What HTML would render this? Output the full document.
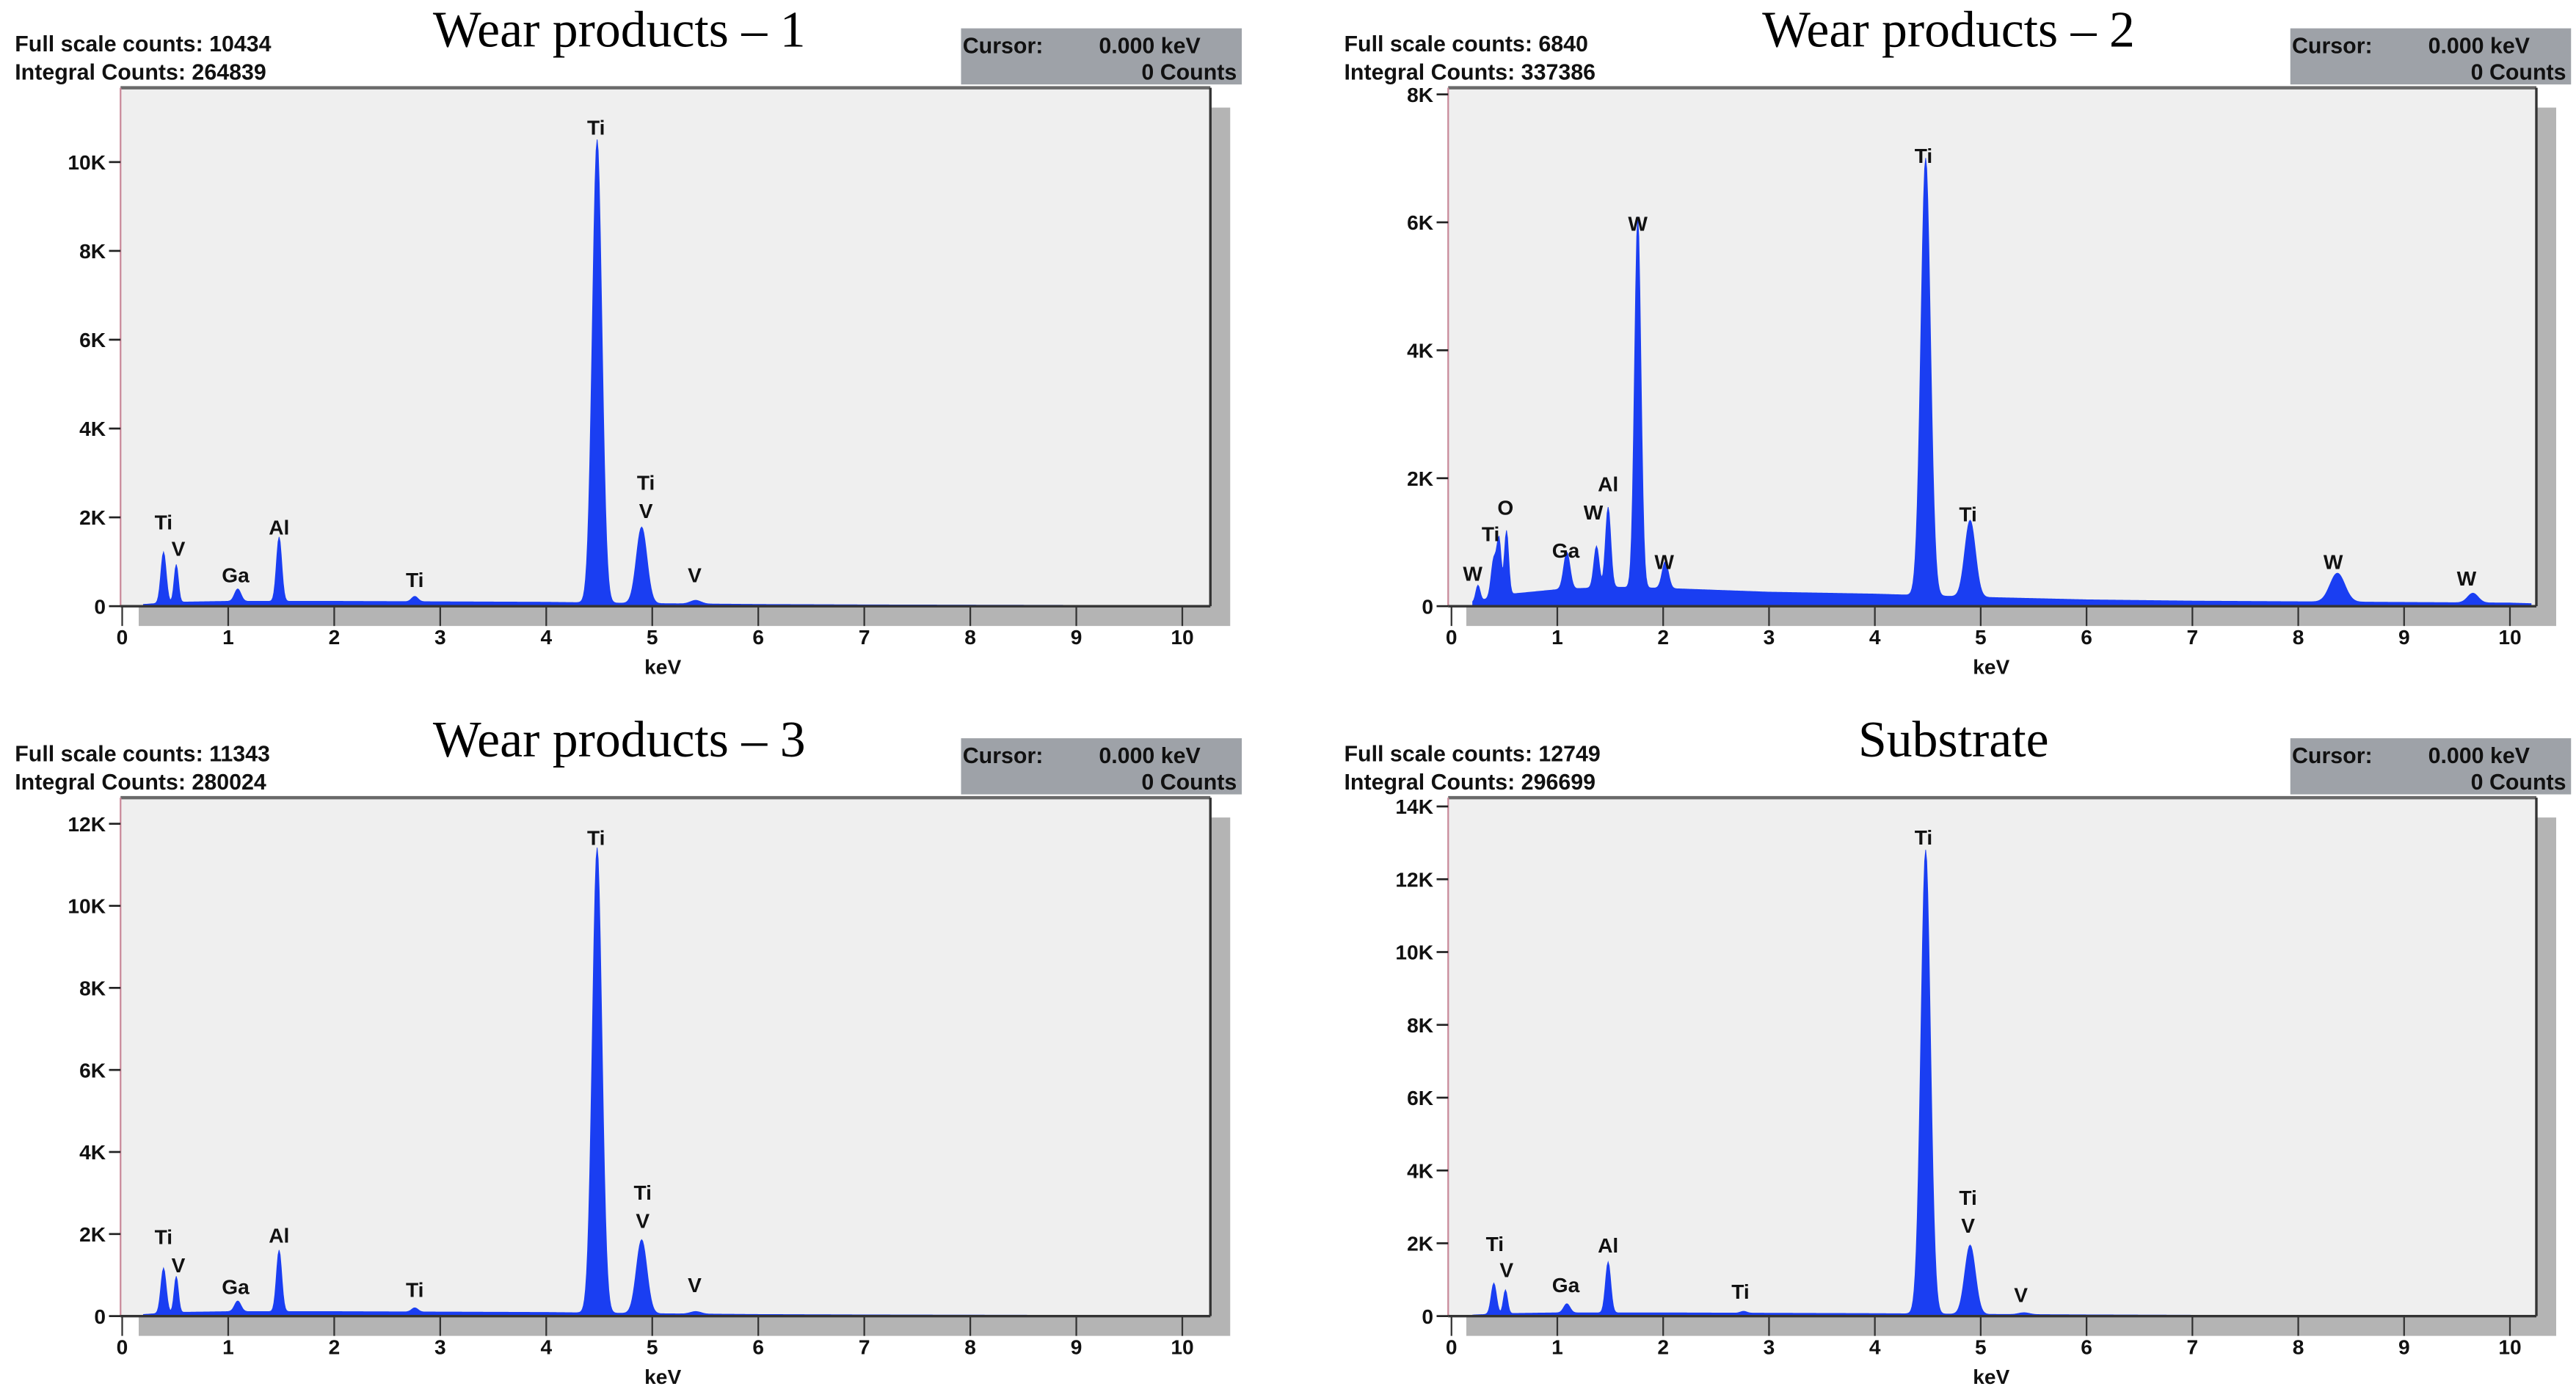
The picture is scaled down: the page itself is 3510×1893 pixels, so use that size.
<!DOCTYPE html>
<html><head><meta charset="utf-8"><style>
html,body{margin:0;padding:0;background:#fff;}
svg{display:block;}
</style></head><body>
<svg id="fig" xmlns="http://www.w3.org/2000/svg" width="3510" height="1893" viewBox="0 0 1560 841"></svg>
<script>
// ---- data: panel 1 (Wear products – 1) ----
const p1PeakKeV   = [0.39, 0.51, 1.09, 1.48, 2.76, 4.48, 4.90, 5.41];
const p1PeakCount = [1150, 850, 280, 1450, 120, 10434, 1720, 80];
const p1PeakSigma = [0.025, 0.02, 0.03, 0.025, 0.03, 0.045, 0.05, 0.05];
const p1BgKeV   = [0.2, 0.5, 1, 2, 3, 4, 5, 6, 7, 8, 9, 10, 10.2];
const p1BgCount = [40, 90, 110, 110, 100, 90, 60, 40, 30, 25, 20, 15, 15];
const p1LabelText  = ["Ti","V","Ga","Al","Ti","Ti","Ti","V","V"];
const p1LabelKeV   = [0.39,0.53,1.07,1.48,2.76,4.47,4.94,4.94,5.40];
const p1LabelCount = [1896,1301,706,1784,595,10781,2788,2156,706];
const p1YTicks = [0,2000,4000,6000,8000,10000];
const p1YTickLabels = ["0","2K","4K","6K","8K","10K"];

// ---- data: panel 2 (Wear products – 2) ----
const p2PeakKeV   = [0.25, 0.40, 0.45, 0.52, 1.09, 1.37, 1.48, 1.76, 2.02, 4.48, 4.90, 8.37, 9.65];
const p2PeakCount = [250, 600, 850, 1000, 580, 650, 1250, 5800, 420, 6840, 1200, 450, 150];
const p2PeakSigma = [0.02, 0.025, 0.02, 0.02, 0.03, 0.025, 0.025, 0.03, 0.03, 0.045, 0.05, 0.07, 0.05];
const p2BgKeV   = [0.2, 0.5, 1, 1.5, 2, 3, 4, 5, 6, 7, 8, 9, 10, 10.2];
const p2BgCount = [60, 180, 260, 300, 280, 220, 190, 140, 100, 80, 70, 60, 50, 40];
const p2LabelText  = ["W","Ti","O","Ga","W","Al","W","W","Ti","Ti","W","W"];
const p2LabelKeV   = [0.20,0.37,0.51,1.08,1.34,1.48,1.76,2.01,4.46,4.88,8.33,9.59];
const p2LabelCount = [516,1135,1548,877,1471,1910,5987,697,7045,1445,697,439];
const p2YTicks = [0,2000,4000,6000,8000];
const p2YTickLabels = ["0","2K","4K","6K","8K"];

// ---- data: panel 3 (Wear products – 3) ----
const p3PeakKeV   = [0.39, 0.51, 1.09, 1.48, 2.76, 4.48, 4.90, 5.41];
const p3PeakCount = [1100, 880, 260, 1500, 100, 11343, 1800, 60];
const p3PeakSigma = [0.025, 0.02, 0.03, 0.025, 0.03, 0.045, 0.05, 0.05];
const p3BgKeV   = [0.2, 0.5, 1, 2, 3, 4, 5, 6, 7, 8, 9, 10, 10.2];
const p3BgCount = [40, 90, 110, 110, 100, 90, 60, 40, 30, 25, 20, 15, 15];
const p3LabelText  = ["Ti","V","Ga","Al","Ti","Ti","Ti","V","V"];
const p3LabelKeV   = [0.39,0.53,1.07,1.48,2.76,4.47,4.91,4.91,5.40];
const p3LabelCount = [1932,1247,724,1972,644,11670,3018,2334,765];
const p3YTicks = [0,2000,4000,6000,8000,10000,12000];
const p3YTickLabels = ["0","2K","4K","6K","8K","10K","12K"];

// ---- data: panel 4 (Substrate) ----
const p4PeakKeV   = [0.40, 0.51, 1.09, 1.48, 2.76, 4.48, 4.90, 5.41];
const p4PeakCount = [850, 650, 250, 1400, 50, 12749, 1900, 50];
const p4PeakSigma = [0.025, 0.02, 0.03, 0.025, 0.03, 0.045, 0.05, 0.05];
const p4BgKeV   = [0.2, 0.5, 1, 2, 3, 4, 5, 6, 7, 8, 9, 10, 10.2];
const p4BgCount = [30, 70, 90, 90, 80, 70, 50, 35, 25, 20, 15, 12, 12];
const p4LabelText  = ["Ti","V","Ga","Al","Ti","Ti","Ti","V","V"];
const p4LabelKeV   = [0.41,0.52,1.08,1.48,2.73,4.46,4.88,4.88,5.38];
const p4LabelCount = [1995,1270,862,1950,680,13152,3265,2494,590];
const p4YTicks = [0,2000,4000,6000,8000,10000,12000,14000];
const p4YTickLabels = ["0","2K","4K","6K","8K","10K","12K","14K"];

const xTicks = [0,1,2,3,4,5,6,7,8,9,10];

const panels = [
 {name:"wear-products-1", title:"Wear products \u2013 1", full:"10434", integral:"264839", ox:0, oy:0, titleX:375,
  box:[73,53,733,367], x0:74, pxKeV:64.2, zeroY:367, pxCount:0.0269,
  pk:p1PeakKeV, pc:p1PeakCount, ps:p1PeakSigma, bk:p1BgKeV, bc:p1BgCount,
  lt:p1LabelText, lk:p1LabelKeV, lc:p1LabelCount, yt:p1YTicks, ytl:p1YTickLabels},
 {name:"wear-products-2", title:"Wear products \u2013 2", full:"6840", integral:"337386", ox:805, oy:0, titleX:1180,
  box:[877,53,1536,367], x0:879, pxKeV:64.1, zeroY:367, pxCount:0.03875,
  pk:p2PeakKeV, pc:p2PeakCount, ps:p2PeakSigma, bk:p2BgKeV, bc:p2BgCount,
  lt:p2LabelText, lk:p2LabelKeV, lc:p2LabelCount, yt:p2YTicks, ytl:p2YTickLabels},
 {name:"wear-products-3", title:"Wear products \u2013 3", full:"11343", integral:"280024", ox:0, oy:430, titleX:375,
  box:[73,483,733,797], x0:74, pxKeV:64.2, zeroY:797, pxCount:0.02485,
  pk:p3PeakKeV, pc:p3PeakCount, ps:p3PeakSigma, bk:p3BgKeV, bc:p3BgCount,
  lt:p3LabelText, lk:p3LabelKeV, lc:p3LabelCount, yt:p3YTicks, ytl:p3YTickLabels},
 {name:"substrate", title:"Substrate", full:"12749", integral:"296699", ox:805, oy:430, titleX:1183,
  box:[877,483,1536,797], x0:879, pxKeV:64.1, zeroY:797, pxCount:0.02205,
  pk:p4PeakKeV, pc:p4PeakCount, ps:p4PeakSigma, bk:p4BgKeV, bc:p4BgCount,
  lt:p4LabelText, lk:p4LabelKeV, lc:p4LabelCount, yt:p4YTicks, ytl:p4YTickLabels}
];

const NS = "http://www.w3.org/2000/svg";
const svg = document.getElementById("fig");
function mk(tag, attrs, parent){
  const e = document.createElementNS(NS, tag);
  for (const k in attrs) e.setAttribute(k, attrs[k]);
  (parent||svg).appendChild(e);
  return e;
}
function txt(s, attrs, parent){ const t = mk("text", attrs, parent); t.textContent = s; return t; }

function bgAt(p, e){
  const k = p.bk, c = p.bc;
  if (e <= k[0]) return c[0];
  for (let i=1;i<k.length;i++){
    if (e <= k[i]) { const f=(e-k[i-1])/(k[i]-k[i-1]); return c[i-1]+f*(c[i]-c[i-1]); }
  }
  return c[c.length-1];
}
function countAt(p, e){
  let v = bgAt(p, e);
  for (let i=0;i<p.pk.length;i++){
    const d = (e-p.pk[i])/p.ps[i];
    v += p.pc[i]*Math.exp(-0.5*d*d);
  }
  return v;
}

panels.forEach(p => {
  const g = mk("g", {});
  
  
  const X = e => p.x0 + e*p.pxKeV;
  const Y = c => p.zeroY - c*p.pxCount;
  const [L,T,R,B] = p.box;
  const sans = '"Liberation Sans", sans-serif';
  const lab = {"font-family":sans, "font-weight":"bold", "font-size":12.5, fill:"#111"};

  // info text
  const i1 = txt("Full scale counts: " + p.full, Object.assign({x:p.ox+9, y:p.oy+31}, lab, {"font-size":13.5}), g);
  
  
  const i2 = txt("Integral Counts: " + p.integral, Object.assign({x:p.ox+9, y:p.oy+48}, lab, {"font-size":13.5}), g);
  
  

  // title
  const tt = txt(p.title, {x:p.titleX, y:p.oy+28, "text-anchor":"middle", "font-family":'"Liberation Serif", serif', "font-size":31, fill:"#000"}, g);
  
  

  // cursor box
  const cb = mk("g", {}, g);
  
  
  mk("rect", {x:p.ox+582, y:p.oy+17, width:170, height:34, fill:"#9ea2a8"}, cb);
  txt("Cursor:", Object.assign({x:p.ox+583, y:p.oy+32}, lab, {"font-size":13.5}), cb);
  txt("0.000 keV", Object.assign({x:p.ox+727, y:p.oy+32, "text-anchor":"end"}, lab, {"font-size":13.5}), cb);
  txt("0 Counts", Object.assign({x:p.ox+749, y:p.oy+48, "text-anchor":"end"}, lab, {"font-size":13.5}), cb);

  // shadow + plot area
  mk("rect", {x:L+11, y:T+12, width:R-L+1, height:B-T, fill:"#b4b4b4"}, g);
  const area = mk("rect", {x:L, y:T, width:R-L, height:B-T, fill:"#efefef", stroke:"none"}, g);
  
  
  mk("line", {x1:L, y1:T, x2:R, y2:T, stroke:"#6a6a6a", "stroke-width":2}, g);
  mk("line", {x1:R, y1:T, x2:R, y2:B, stroke:"#333", "stroke-width":1.5}, g);
  mk("line", {x1:L, y1:T, x2:L, y2:B, stroke:"#c98a9a", "stroke-width":1}, g);

  // spectrum
  let d = "M" + X(0.2).toFixed(2) + "," + Y(0);
  for (let e=0.2; e<=10.2+1e-9; e+=0.01){
    const c = Math.min(countAt(p, e), (p.zeroY - T)/p.pxCount);
    d += " L" + X(e).toFixed(2) + "," + Y(c).toFixed(2);
  }
  d += " L" + X(10.2).toFixed(2) + "," + Y(0) + " Z";
  const sp = mk("path", {d:d, fill:"#1a3ef2", stroke:"#1a3ef2", "stroke-width":0.4}, g);
  
  

  // x axis
  mk("line", {x1:L, y1:B, x2:R, y2:B, stroke:"#333", "stroke-width":1.5}, g);
  xTicks.forEach(t => {
    const tk = mk("line", {x1:X(t), y1:B, x2:X(t), y2:B+12, stroke:"#333", "stroke-width":1}, g);
    
    
    const tl = txt(String(t), Object.assign({x:X(t), y:B+23, "text-anchor":"middle"}, lab), g);
    
    
  });
  const xt = txt("keV", Object.assign({x:X(5.1), y:B+41, "text-anchor":"middle"}, lab), g);
  
  

  // y axis ticks
  p.yt.forEach((t,i) => {
    const tk = mk("line", {x1:L-7, y1:Y(t), x2:L, y2:Y(t), stroke:"#222", "stroke-width":1.2}, g);
    
    
    const tl = txt(p.ytl[i], Object.assign({x:L-9, y:Y(t)+4.5, "text-anchor":"end"}, lab), g);
    
    
  });

  // peak labels
  p.lt.forEach((s,i) => {
    const lb = txt(s, Object.assign({x:X(p.lk[i]), y:Y(p.lc[i])+4.5, "text-anchor":"middle"}, lab), g);
    
    
  });
});
</script>
</body></html>
